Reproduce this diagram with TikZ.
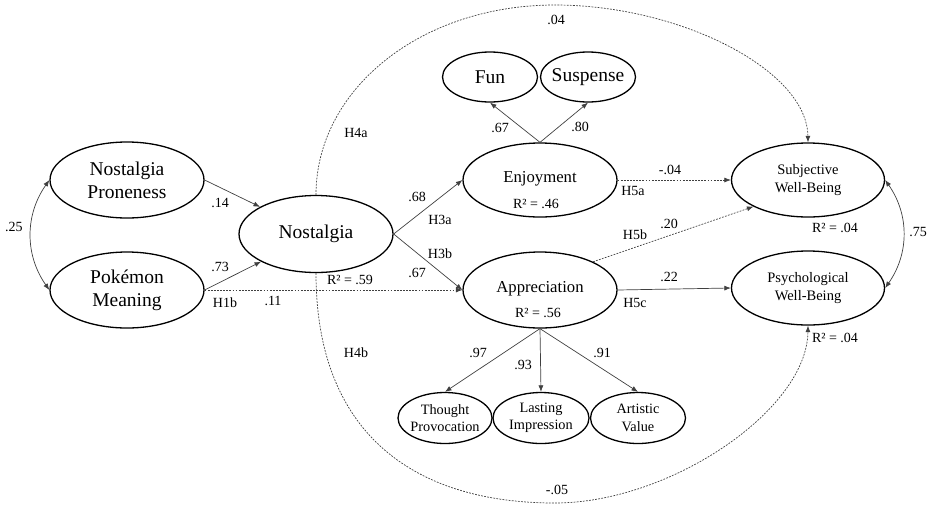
\documentclass[tikz,border=0pt]{standalone}
\usepackage{fontspec}
\setmainfont{Liberation Serif}
\usetikzlibrary{shapes.geometric,arrows.meta}
\begin{document}
\begin{tikzpicture}[x=1pt,y=-1pt,
  ell/.style={draw=black,line width=1.3pt,ellipse,inner sep=0pt},
  bigtxt/.style={align=center,font=\fontsize{19.5}{23}\selectfont},
  midtxt/.style={align=center,font=\fontsize{16.7}{20}\selectfont},
  smtxt/.style={align=center,font=\fontsize{14.5}{18}\selectfont},
  lab/.style={font=\fontsize{14}{16}\selectfont,inner sep=0pt},
  conn/.style={draw=black!75,line width=0.7pt,-{Latex[length=6.5pt,width=5pt]}},
  dconn/.style={conn,dash pattern=on 1.8pt off 1.3pt},
  dbl/.style={draw=black!75,line width=0.7pt,{Latex[length=6.5pt,width=5pt]}-{Latex[length=6.5pt,width=5pt]}}
]
\useasboundingbox (0,0) rectangle (931,504);
% ellipses
\node[ell,minimum width=154pt,minimum height=76pt] (np) at (127,180) {};
\node[bigtxt] (nptx) at (np) {Nostalgia\\Proneness};
\node[ell,minimum width=154pt,minimum height=76pt] (pm) at (127,290) {};
\node[bigtxt] (pmtx) at (pm) {Pokémon\\Meaning};
\node[ell,minimum width=154pt,minimum height=77pt] (nost) at (316,234) {};
\node[bigtxt] (nosttx) at (nost) {Nostalgia};
\node[ell,minimum width=154pt,minimum height=74pt] (enj) at (540,180) {};
\node[midtxt] (enjtx) at (540,179) {Enjoyment};
\node[ell,minimum width=154pt,minimum height=76pt] (app) at (540,290) {};
\node[midtxt] (apptx) at (540,289) {Appreciation};
\node[ell,minimum width=95pt,minimum height=50pt] (fun) at (490,77) {};
\node[bigtxt] (funtx) at (fun) {Fun};
\node[ell,minimum width=95pt,minimum height=50pt] (sus) at (588,77) {};
\node[bigtxt] (sustx) at (sus) {Suspense};
\node[ell,minimum width=153pt,minimum height=74pt] (swb) at (808,180) {};
\node[smtxt] (swbtx) at (swb) {Subjective\\Well-Being};
\node[ell,minimum width=153pt,minimum height=74pt] (pwb) at (808,288) {};
\node[smtxt] (pwbtx) at (pwb) {Psychological\\Well-Being};
\node[ell,minimum width=94pt,minimum height=51pt] (tp) at (445,418) {};
\node[smtxt,font=\fontsize{14.3}{17.5}\selectfont] (tptx) at (tp) {Thought\\Provocation};
\node[ell,minimum width=96pt,minimum height=51pt] (li) at (541,418) {};
\node[smtxt,font=\fontsize{14.3}{17.5}\selectfont] (litx) at (li) {Lasting\\Impression};
\node[ell,minimum width=95pt,minimum height=51pt] (av) at (638,418) {};
\node[smtxt,font=\fontsize{14.3}{17.5}\selectfont] (avtx) at (av) {Artistic\\Value};
% connectors
\draw[conn] (np.east) -- (nost);
\draw[conn] (pm.east) -- (nost);
\draw[dconn] (pm.east) -- (app.west);
\draw[conn] (nost.east) -- (enj.west);
\draw[conn] (nost.east) -- (app.west);
\draw[conn] (enj.north) -- (fun.south);
\draw[conn] (enj.north) -- (sus.south);
\draw[dconn] (enj.east) -- (swb.west);
\draw[dconn] (app.28) -- (swb.206);
\draw[conn] (app.east) -- (pwb.west);
\draw[conn] (app.south) -- (tp.north);
\draw[conn] (app.south) -- (li.north);
\draw[conn] (app.south) -- (av.north);
\draw[dbl] (swb.east) to[bend left=35] (pwb.east);
\draw[dbl] (np.west) to[bend right=35] (pm.west);
\coordinate (topc) at (555,5);
\coordinate (botc) at (555,503);
\draw[dconn] (nost.north) .. controls (316,90) and (420,5) .. (topc)
  .. controls (680,5) and (807,70) .. (swb.north);
\draw[dconn] (nost.south) .. controls (316,430) and (410,503) .. (botc)
  .. controls (670,503) and (807,410) .. (pwb.south);
% labels
\node[lab] at (556,20) {.04};
\node[lab] at (557,490) {-.05};
\node[lab] at (356,133) {H4a};
\node[lab] at (356,353) {H4b};
\node[lab] at (14,227) {.25};
\node[lab] at (220,203) {.14};
\node[lab] at (220,267) {.73};
\node[lab] at (225,303) {H1b};
\node[lab] at (273,301) {.11};
\node[lab] at (350,280) {R² = .59};
\node[lab] at (417,197) {.68};
\node[lab] at (440,220) {H3a};
\node[lab] at (440,254) {H3b};
\node[lab] at (417,273) {.67};
\node[lab] at (536,204) {R² = .46};
\node[lab] at (538,313) {R² = .56};
\node[lab] at (670,170) {-.04};
\node[lab] at (633,191) {H5a};
\node[lab] at (669,224) {.20};
\node[lab] at (635,235) {H5b};
\node[lab] at (669,277) {.22};
\node[lab] at (635,303) {H5c};
\node[lab] at (835,228) {R² = .04};
\node[lab] at (835,338) {R² = .04};
\node[lab] at (918,232) {.75};
\node[lab] at (500,128) {.67};
\node[lab] at (580,127) {.80};
\node[lab] at (478,353) {.97};
\node[lab] at (523,365) {.93};
\node[lab] at (602,353) {.91};
\end{tikzpicture}
\end{document}
